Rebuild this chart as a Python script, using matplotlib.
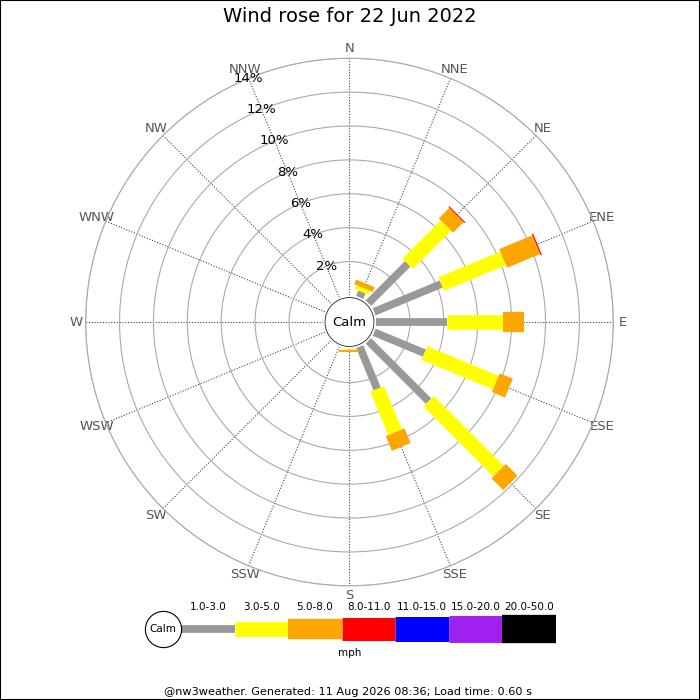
import matplotlib
matplotlib.use("Agg")
import matplotlib.pyplot as plt
import numpy as np
from matplotlib.patches import Circle, Rectangle

# data: percentage of time per direction and speed band
directions = ['N', 'NNE', 'NE', 'ENE', 'E', 'ESE', 'SE', 'SSE',
              'S', 'SSW', 'SW', 'WSW', 'W', 'WNW', 'NW', 'NNW']
speed_bands = ['1.0-3.0', '3.0-5.0', '5.0-8.0', '8.0-11.0',
               '11.0-15.0', '15.0-20.0', '20.0-50.0']
band_1_3 = [0, 0.35, 3.29, 4.29, 4.20, 3.22, 5.04, 2.70, 0, 0, 0, 0, 0, 0, 0, 0]
band_3_5 = [0, 0.25, 3.20, 3.96, 3.30, 4.56, 5.84, 2.77, 0.08, 0, 0, 0, 0, 0, 0, 0]
band_5_8 = [0, 0.30, 0.88, 2.12, 1.23, 0.84, 0.98, 0.94, 0.10, 0, 0, 0, 0, 0, 0, 0]
band_8_11 = [0, 0, 0.06, 0.07, 0, 0, 0, 0, 0, 0, 0, 0, 0, 0, 0, 0]
band_11_15 = [0] * 16
band_15_20 = [0] * 16
band_20_50 = [0] * 16
ring_ticks = [2, 4, 6, 8, 10, 12, 14]

bands = [band_1_3, band_3_5, band_5_8, band_8_11, band_11_15, band_15_20, band_20_50]
colors = ['#999999', '#ffff00', '#ffa500', '#ff0000', '#0000ff', '#a020f0', '#000000']
widths = [5.6, 10.6, 14.6, 16.6, 18.0, 19.4, 20.4]  # line widths in pt

fig = plt.figure(figsize=(7, 7), dpi=100)

#polar rose
ax = fig.add_axes([0.1224, 0.1631, 0.7537, 0.7537], projection='polar')
ax.set_theta_zero_location('N')
ax.set_theta_direction(-1)
ax.set_ylim(0, 14)
ax.set_rorigin(-1.57)
ax.set_yticks(ring_ticks)
ax.set_yticklabels([])
theta = np.radians(np.arange(len(directions)) * 22.5)
ax.set_xticks(theta)
ax.set_xticklabels(directions, fontsize=9.5, color='#555555')
ax.tick_params(axis='x', pad=-3.5)
ax.yaxis.grid(True, color='#aaaaaa', linewidth=0.8, linestyle='-')
ax.xaxis.grid(True, color='#444444', linewidth=0.8, linestyle=(0, (1, 1.5)))
ax.spines['polar'].set_color('#aaaaaa')
ax.spines['polar'].set_linewidth(0.8)
ax.spines['inner'].set_linewidth(0)
ax.spines['inner'].set_edgecolor('none')

for i, th in enumerate(theta):
    start = 0
    for band, c, w in zip(bands, colors, widths):
        v = band[i]
        if v > 0:
            ax.plot([th, th], [start, start + v], color=c, linewidth=w,
                    solid_capstyle='butt', zorder=3)
        start += v

for t in ring_ticks:
    ax.text(np.radians(337.5), t, "%d%%" % t, ha='center', va='center',
            fontsize=9.5, color='black', zorder=4)

ax.add_patch(Circle((0.5, 0.5), 0.0464, transform=ax.transAxes, facecolor='white',
                    edgecolor='#222222', linewidth=0.6, zorder=5, clip_on=False))
ax.text(0.5, 0.5, "Calm", transform=ax.transAxes, ha='center', va='center',
        fontsize=9.5, zorder=6)

#legend strip
lax = fig.add_axes([181 / 700, 41 / 700, 375 / 700, 60 / 700])
lax.set_xlim(0, 7)
lax.set_ylim(0, 1)
lax.axis('off')
for j, (lab, c, w) in enumerate(zip(speed_bands, colors, widths)):
    lax.plot([j, j + 1], [0.5, 0.5], color=c, linewidth=w, solid_capstyle='butt')
    lax.text(j + 0.5, 0.87, lab, ha='center', va='center', fontsize=7.5)
lax.scatter([-0.345], [0.5], s=680, facecolor='white', edgecolor='black',
            linewidth=0.8, zorder=5, clip_on=False)
lax.text(-0.345, 0.5, "Calm", ha='center', va='center', fontsize=7.5, zorder=6)
fig.text(0.5, (700 - 653) / 700, "mph", ha='center', va='center', fontsize=7.5)

fig.text(0.5, (700 - 17) / 700, "Wind rose for 22 Jun 2022", ha='center', va='center', fontsize=14)
fig.text(0.497, (700 - 692) / 700, "@nw3weather. Generated: 11 Aug 2026 08:36; Load time: 0.60 s",
         ha='center', va='center', fontsize=8.1)

fig.patches.append(Rectangle((0, 0), 1, 1, transform=fig.transFigure, fill=False,
                             edgecolor='black', linewidth=1.5))

fig.savefig('out.png', dpi=100)
